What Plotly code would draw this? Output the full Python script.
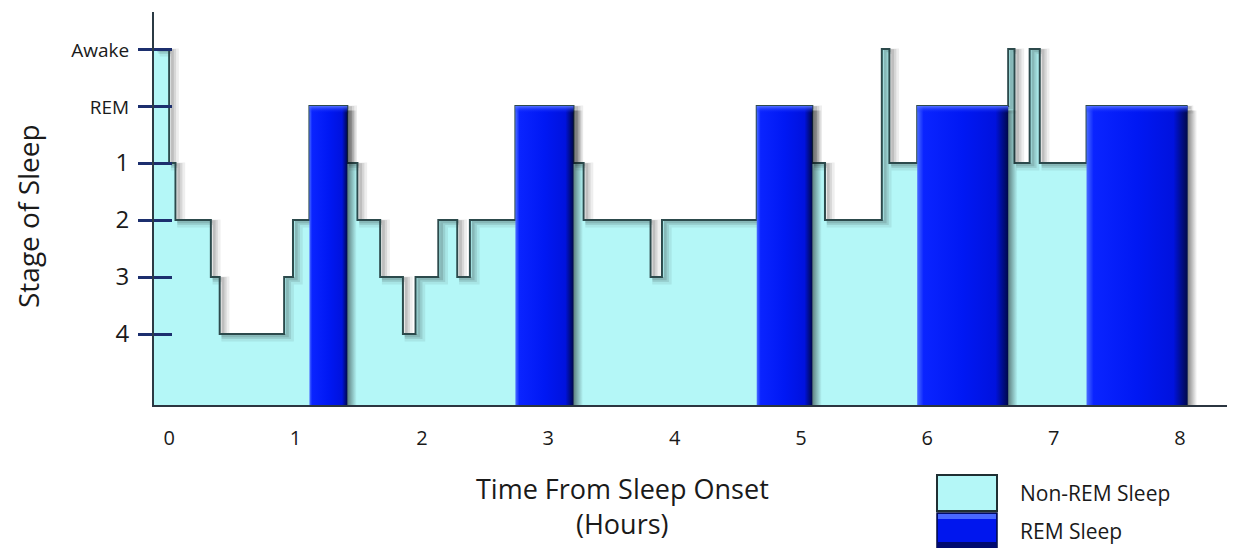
import plotly.graph_objects as go

# ---------------- data ----------------
seg_start = [-0.12, 0.00, 0.05, 0.33, 0.40, 0.91, 0.98, 1.11, 1.41, 1.49, 1.67, 1.85,
             1.95, 2.13, 2.28, 2.38, 2.74, 3.20, 3.28, 3.81, 3.90, 4.65, 5.09, 5.19,
             5.64, 5.70, 5.92, 6.64, 6.69, 6.81, 6.89, 7.26]
seg_stage = ["Awake", "1", "2", "3", "4", "3", "2", "REM", "1", "2", "3", "4",
             "3", "2", "3", "2", "REM", "1", "2", "3", "2", "REM", "1", "2",
             "Awake", "1", "REM", "Awake", "1", "Awake", "1", "REM"]
end_time = 8.06

stage_labels = ["Awake", "REM", "1", "2", "3", "4"]
x_ticks = [0, 1, 2, 3, 4, 5, 6, 7, 8]

# ---------------- scales ----------------
level = {"Awake": 6, "REM": 5, "1": 4, "2": 3, "3": 2, "4": 1}
BASE = -0.245
Y_TOP = 6.65
X_MIN, X_MAX = -0.12, 8.435

FILL = "#b4f7f7"
LINE = "#2c4a4c"
FONT = "Open Sans"
TXT = "#1a1a1a"

xs = seg_start + [end_time]
ys = [level[s] for s in seg_stage] + [level[seg_stage[-1]]]

fig = go.Figure()

# baseline for fill
fig.add_trace(go.Scatter(x=[xs[0], xs[-1]], y=[BASE, BASE], mode="lines",
                         line=dict(width=0, color="rgba(0,0,0,0)"),
                         hoverinfo="skip", showlegend=False))
# non-REM fill
fig.add_trace(go.Scatter(x=xs, y=ys, mode="lines", line_shape="hv",
                         line=dict(width=0, color=FILL), fill="tonexty",
                         fillcolor=FILL, hoverinfo="skip", showlegend=False))
# soft line shadow
for dx, dy, w, a in [(0.045, -0.06, 8, 0.07), (0.035, -0.045, 5, 0.10), (0.025, -0.03, 3, 0.12)]:
    fig.add_trace(go.Scatter(x=[v + dx for v in xs], y=[v + dy for v in ys],
                             mode="lines", line_shape="hv",
                             line=dict(width=w, color="rgba(20,20,20,%.2f)" % a),
                             hoverinfo="skip", showlegend=False))
# step line
fig.add_trace(go.Scatter(x=xs, y=ys, mode="lines", line_shape="hv",
                         line=dict(width=2, color=LINE),
                         hoverinfo="skip", showlegend=False))

# REM blocks
for i, s in enumerate(seg_stage):
    if s != "REM":
        continue
    t0 = seg_start[i]
    t1 = seg_start[i + 1] if i + 1 < len(seg_start) else end_time
    top = level["REM"]
    # shadow
    fig.add_trace(go.Scatter(
        x=[t1 - 0.01, t1 + 0.075, t1 + 0.075, t1 - 0.01, t1 - 0.01],
        y=[BASE, BASE, top - 0.08, top - 0.08, BASE],
        mode="lines", line=dict(width=0), fill="toself",
        fillgradient=dict(type="horizontal",
                          colorscale=[[0, "rgba(0,0,0,0.55)"], [1, "rgba(0,0,0,0)"]]),
        hoverinfo="skip", showlegend=False))
    # block body with horizontal gradient
    fig.add_trace(go.Scatter(
        x=[t0, t1, t1, t0, t0], y=[BASE, BASE, top, top, BASE],
        mode="lines", line=dict(width=0), fill="toself",
        fillgradient=dict(type="horizontal",
                          colorscale=[[0, "#4a6cff"], [0.07, "#0a24ff"], [0.5, "#0018f4"],
                                      [0.86, "#0012de"], [1, "#00084a"]]),
        hoverinfo="skip", showlegend=False))
    # top highlight
    fig.add_trace(go.Scatter(
        x=[t0, t1, t1, t0, t0], y=[top - 0.12, top - 0.12, top, top, top - 0.12],
        mode="lines", line=dict(width=0), fill="toself",
        fillgradient=dict(type="vertical",
                          colorscale=[[0, "rgba(10,36,255,0)"], [1, "rgba(90,120,255,0.9)"]]),
        hoverinfo="skip", showlegend=False))

ticktext = []
for s in stage_labels:
    if s in ("Awake", "REM"):
        ticktext.append('<span style="font-family:\'Open Sans\';font-size:19px">%s</span>' % s)
    else:
        ticktext.append(s)

# the page puts the figure 8 px in from the top-left corner
OFF = 8
W, H = 1235 - OFF, 548 - OFF
L, T = 154 - OFF, 12 - OFF
R = 0
B = H - (405 - OFF)
pw, ph = W - L - R, H - T - B


def px(x):
    return (x - OFF - L) / pw


def py(y):
    return (H - B - (y - OFF)) / ph


fig.update_layout(
    width=W, height=H,
    margin=dict(l=L, r=R, t=T, b=B),
    paper_bgcolor="white", plot_bgcolor="white",
    font=dict(family=FONT, color=TXT),
    xaxis=dict(range=[X_MIN, X_MAX], tickvals=x_ticks, ticktext=[str(v) for v in x_ticks],
               showgrid=False, zeroline=False, showline=True, linecolor="#2b3540",
               linewidth=2, ticks="", ticklabelstandoff=14,
               tickfont=dict(size=20, family=FONT, color=TXT)),
    yaxis=dict(range=[BASE, Y_TOP], tickvals=[level[s] for s in stage_labels],
               ticktext=ticktext, showgrid=False, zeroline=False, showline=True,
               linecolor="#2b3a44", linewidth=2, ticks="outside", ticklen=14,
               tickwidth=3, tickcolor="#1c2f6e", ticklabelstandoff=4,
               tickfont=dict(size=24, family=FONT, color=TXT)),
    yaxis2=dict(range=[BASE, Y_TOP], overlaying="y", side="left", anchor="x",
                tickvals=[level[s] for s in stage_labels], showticklabels=False,
                ticks="inside", ticklen=18, tickwidth=3, tickcolor="#1c2f6e",
                showgrid=False, zeroline=False, showline=False),
)

# invisible trace to activate yaxis2
fig.add_trace(go.Scatter(x=[X_MIN], y=[BASE], yaxis="y2", mode="markers",
                         marker=dict(opacity=0), hoverinfo="skip", showlegend=False))

ann = []
ann.append(dict(text="Stage of Sleep", x=px(28), y=py(216), xref="paper", yref="paper",
                textangle=-90, showarrow=False, font=dict(size=28, family=FONT, color=TXT),
                xanchor="center", yanchor="middle"))
ann.append(dict(text="Time From Sleep Onset", x=px(622), y=py(489), xref="paper", yref="paper",
                showarrow=False, font=dict(size=27, family=FONT, color=TXT),
                xanchor="center", yanchor="middle"))
ann.append(dict(text="(Hours)", x=px(622), y=py(523), xref="paper", yref="paper",
                showarrow=False, font=dict(size=27, family=FONT, color=TXT),
                xanchor="center", yanchor="middle"))
ann.append(dict(text="Non-REM Sleep", x=px(1018), y=py(493), xref="paper", yref="paper",
                showarrow=False, font=dict(size=21, family=FONT, color=TXT),
                xanchor="left", yanchor="middle"))
ann.append(dict(text="REM Sleep", x=px(1018), y=py(531), xref="paper", yref="paper",
                showarrow=False, font=dict(size=21, family=FONT, color=TXT),
                xanchor="left", yanchor="middle"))
fig.update_layout(annotations=ann)

shapes = []
shapes.append(dict(type="rect", xref="paper", yref="paper", x0=px(937), x1=px(997),
                   y0=py(475), y1=py(511), fillcolor=FILL,
                   line=dict(color="#1f2f33", width=2)))
shapes.append(dict(type="rect", xref="paper", yref="paper", x0=px(937), x1=px(997),
                   y0=py(513), y1=py(549), fillcolor="#0016ee",
                   line=dict(color="#000840", width=1.5)))
shapes.append(dict(type="rect", xref="paper", yref="paper", x0=px(938), x1=px(996),
                   y0=py(514), y1=py(519), fillcolor="#4a68ff", line=dict(width=0)))
shapes.append(dict(type="rect", xref="paper", yref="paper", x0=px(938), x1=px(996),
                   y0=py(542), y1=py(548), fillcolor="#000a70", line=dict(width=0)))
fig.update_layout(shapes=shapes)

fig.write_html("out.html")
